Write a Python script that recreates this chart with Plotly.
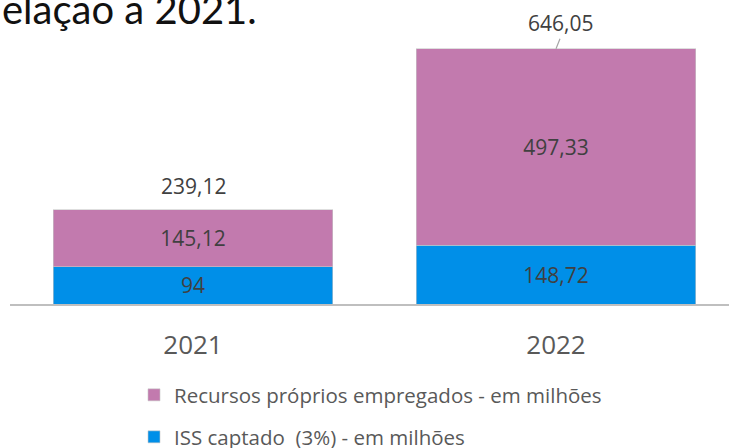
import plotly.graph_objects as go

years = ["2021", "2022"]
iss = [94, 148.72]
recursos = [145.12, 497.33]
name_iss = "ISS captado  (3%) - em milhões"
name_rec = "Recursos próprios empregados - em milhões"
title_text = "elação a 2021."

def fmt(v):
    return f"{v:g}".replace(".", ",")

totals = [round(a + b, 2) for a, b in zip(iss, recursos)]

BLUE = "#008FE8"
PURPLE = "#C27AAE"
FONT = "Open Sans"

fig = go.Figure()
fig.add_trace(go.Bar(
    x=years, y=iss, name=name_iss, marker=dict(color=BLUE, line=dict(color="#C8C8C8", width=0.6)),
    text=[fmt(v) for v in iss], textposition="inside", insidetextanchor="middle",
    textfont=dict(family=FONT, size=21, color="#404040"), legend="legend2",
    hoverinfo="skip"))
fig.add_trace(go.Bar(
    x=years, y=recursos, name=name_rec, marker=dict(color=PURPLE, line=dict(color="#C8C8C8", width=0.6)),
    text=[fmt(v) for v in recursos], textposition="inside", insidetextanchor="middle",
    textfont=dict(family=FONT, size=21, color="#404040"), legend="legend",
    hoverinfo="skip"))

# total labels (category axis annotations use the category index)
total_font = dict(family=FONT, size=21, color="#404040")
fig.add_annotation(x=0, y=totals[0], text=fmt(totals[0]), showarrow=False,
                   yanchor="bottom", yshift=8, font=total_font)
fig.add_annotation(x=1, y=totals[1], text=fmt(totals[1]), showarrow=True, arrowhead=0,
                   arrowcolor="#A6A6A6", arrowwidth=1.2, ax=4, ay=-10, standoff=0,
                   xanchor="center", yanchor="bottom", font=total_font)

fig.add_annotation(xref="paper", yref="paper", x=-10 / 719, y=(304 - 9) / 304,
                   xanchor="left", yanchor="middle", text=title_text, showarrow=False,
                   font=dict(family="Lato", size=40, color="#111111", weight=400))

fig.update_layout(
    width=729, height=448,
    margin=dict(l=10, r=0, t=0, b=144, pad=0, autoexpand=False),
    paper_bgcolor="white", plot_bgcolor="white",
    barmode="stack", bargap=0.2287,
    uniformtext=dict(minsize=21, mode="show"),
    showlegend=True,
    legend=dict(x=(134 - 10) / 719, y=(304 - 395) / 304, xanchor="left", yanchor="middle",
                font=dict(family=FONT, size=20.5, color="#595959"), bgcolor="rgba(0,0,0,0)"),
    legend2=dict(x=(134 - 10) / 719, y=(304 - 437) / 304, xanchor="left", yanchor="middle",
                 font=dict(family=FONT, size=20.5, color="#595959"), bgcolor="rgba(0,0,0,0)"),
    xaxis=dict(type="category", range=[-(193 - 10) / 363, (729 - 193) / 363], showline=True,
               linecolor="#BFBFBF", linewidth=1.5, ticks="", showgrid=False, zeroline=False,
               tickfont=dict(family=FONT, size=26, color="#595959"), ticklabelstandoff=17),
    yaxis=dict(range=[0, 304 / 0.395], showticklabels=False, ticks="", showline=False,
               showgrid=False, zeroline=False),
)

fig.write_html("out.html", post_script="document.body.style.margin='0';",
               config={"displayModeBar": False})
